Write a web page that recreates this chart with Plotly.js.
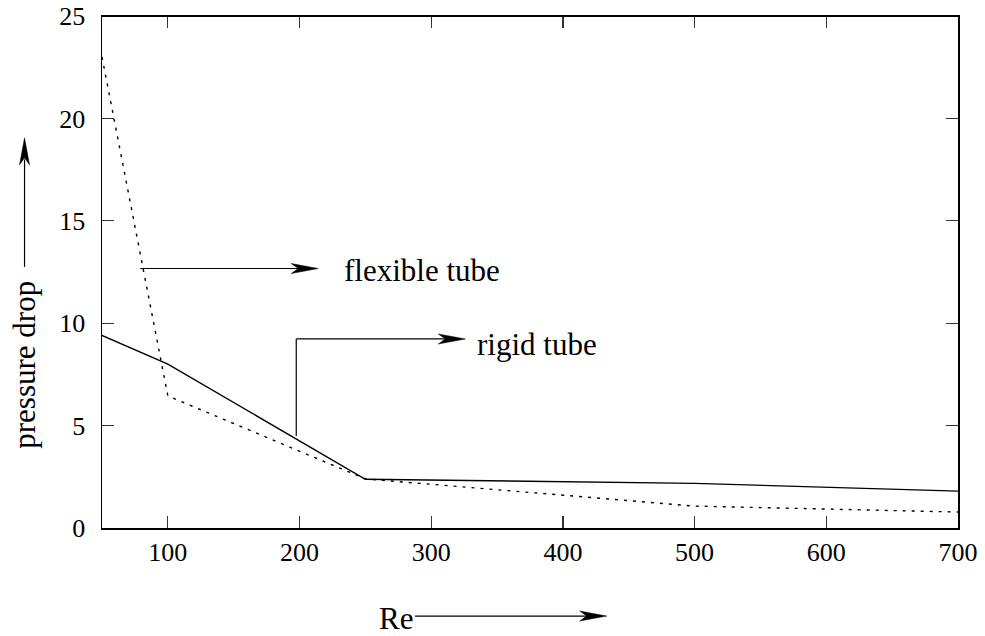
<!DOCTYPE html>
<html>
<head>
<meta charset="utf-8">
<script src="https://cdn.plot.ly/plotly-3.0.1.min.js"></script>
<style>html,body{margin:0;padding:0;background:#fff;}#chart{width:985px;height:636px;}</style>
</head>
<body>
<div id="chart"></div>
<script>
// Data
const reValues = [50, 100, 250, 500, 700];
const rigidTube = [9.4, 8.0, 2.38, 2.18, 1.8];
const flexibleTube = [23.0, 6.45, 2.4, 1.07, 0.78];
const xTicks = [100, 200, 300, 400, 500, 600, 700];
const yTicks = [0, 5, 10, 15, 20, 25];
const serif = "Liberation Serif";

const traces = [
  {x: reValues, y: rigidTube, mode: 'lines', name: 'rigid tube',
   line: {color: '#000', width: 1.4, dash: 'solid'}, hoverinfo: 'skip'},
  {x: reValues, y: flexibleTube, mode: 'lines', name: 'flexible tube',
   line: {color: '#000', width: 1.4, dash: '3px,6px'}, hoverinfo: 'skip'}
];

const axisCommon = {
  showgrid: false, zeroline: false, showline: true, mirror: 'ticks',
  linecolor: '#000', linewidth: 1.5, ticks: 'inside', ticklen: 12,
  tickcolor: '#333', tickwidth: 1.2,
  tickfont: {family: serif, size: 26, color: '#000'}
};

const headRight = 'M0,0 L-27,5 L-20,0 L-27,-5 Z';
const headUp = 'M0,0 L-5,-27 L0,-20 L5,-27 Z';
const black = {color: '#000', width: 1.2};

function head(xref, yref, x, y, path) {
  return {type: 'path', xref: xref, yref: yref, xsizemode: 'pixel', ysizemode: 'pixel',
    xanchor: x, yanchor: y, path: path, fillcolor: '#000', line: {color: '#000', width: 0.5}};
}

const layout = {
  width: 985, height: 636,
  margin: {l: 102, r: 27, t: 16, b: 108},
  paper_bgcolor: '#fff', plot_bgcolor: '#fff',
  showlegend: false,
  xaxis: Object.assign({}, axisCommon, {range: [50, 700], tickvals: xTicks, ticklabelstandoff: 0}),
  yaxis: Object.assign({}, axisCommon, {range: [0, 25], tickvals: yTicks, ticklabelstandoff: 10}),
  shapes: [
    // top frame line
    {type: 'line', xref: 'paper', yref: 'paper', x0: 0, x1: 1, y0: 1, y1: 1,
     line: {color: '#000', width: 2}, layer: 'above'},
    // flexible tube pointer
    {type: 'line', xref: 'x', yref: 'y', x0: 79, x1: 200, y0: 12.67, y1: 12.67, line: black},
    head('x', 'y', 214.2, 12.67, headRight),
    // rigid tube pointer
    {type: 'line', xref: 'x', yref: 'y', x0: 197.5, x1: 197.5, y0: 4.49, y1: 9.23, line: black},
    {type: 'line', xref: 'x', yref: 'y', x0: 197.5, x1: 312, y0: 9.23, y1: 9.23, line: black},
    head('x', 'y', 325.9, 9.23, headRight),
    // y-axis label arrow
    {type: 'line', xref: 'paper', yref: 'paper', x0: -0.0905, x1: -0.0905, y0: 0.51, y1: 0.72, line: black},
    head('paper', 'paper', -0.0905, 0.762, headUp),
    // x-axis label arrow
    {type: 'line', xref: 'paper', yref: 'paper', x0: 0.3657, x1: 0.566, y0: -0.172, y1: -0.172, line: black},
    head('paper', 'paper', 0.5896, -0.172, headRight)
  ],
  annotations: [
    {xref: 'x', yref: 'y', x: 232, y: 12.55, text: 'flexible tube', showarrow: false,
     xanchor: 'left', yanchor: 'middle', font: {family: serif, size: 31, color: '#000'}},
    {xref: 'x', yref: 'y', x: 333, y: 8.95, text: 'rigid tube', showarrow: false,
     xanchor: 'left', yanchor: 'middle', font: {family: serif, size: 31, color: '#000'}},
    {xref: 'paper', yref: 'paper', x: -0.0905, y: 0.318, text: 'pressure drop', textangle: -90,
     showarrow: false, xanchor: 'center', yanchor: 'middle', font: {family: serif, size: 31, color: '#000'}},
    {xref: 'paper', yref: 'paper', x: 0.3657, y: -0.176, text: 'Re', showarrow: false,
     xanchor: 'right', yanchor: 'middle', font: {family: serif, size: 31, color: '#000'}}
  ]
};

Plotly.newPlot('chart', traces, layout, {staticPlot: true, displayModeBar: false});
</script>
</body>
</html>
